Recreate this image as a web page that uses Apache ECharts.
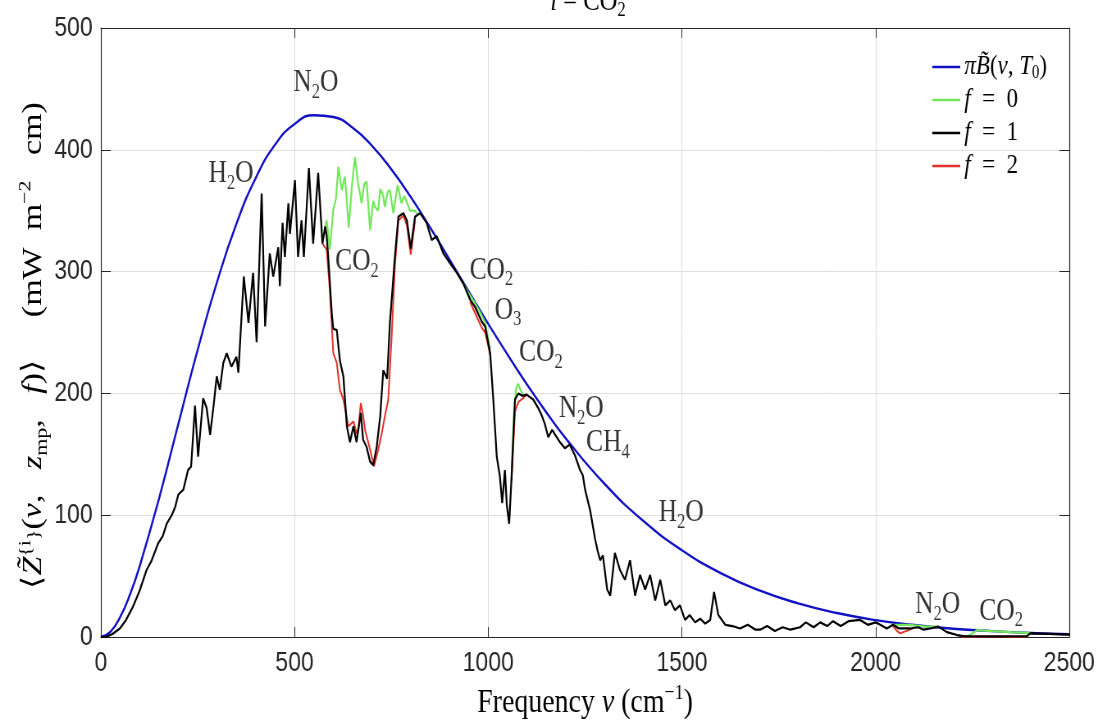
<!DOCTYPE html>
<html>
<head>
<meta charset="utf-8">
<script src="https://cdn.jsdelivr.net/npm/echarts@6.0.0/dist/echarts.min.js"></script>
<style>
html, body { margin: 0; padding: 0; overflow: hidden; background: #fff; }
/* the original figure is squeezed sideways, so draw wide and squeeze */
#main { width: 1356px; height: 722px; transform: scaleX(0.82); transform-origin: 0 0; }
</style>
</head>
<body>
<div id="main"></div>
<script>
var serif = "'Liberation Serif','DejaVu Serif',serif";
var sans = "'Liberation Sans',Arial,sans-serif";

// blue: pi*B(nu,T0)
var planckNu  = [0,25,50,75,100,150,200,250,300,350,400,450,500,550,600,650,700,750,800,850,900,950,1000,1050,1100,1150,1200,1300,1400,1500,1600,1700,1800,1900,2000,2100,2200,2300,2400,2500];
var planckVal = [0,4.4,16.5,34.8,57.9,113.5,174.9,235.9,291.6,339.3,377,404.3,421.2,428.4,426.9,418.1,403.3,383.9,361.2,336.2,310,283.4,257.1,231.8,207.3,184.4,163.1,125.8,95.4,71.2,52.5,38.2,27.6,19.7,13.9,9.8,6.8,4.8,3.3,2.3];

// black: f = 1
var f1 = [[0,0],[15,0.3],[30,2.5],[49,7],[65,14],[83,25],[100,38],[118,55],[130,62],[148,77],[160,83],[170,93],[183,100],[192,107],[200,117],[213,121],[225,137],[233,140],[243,190],[251,148],[264,196],[273,188],[282,166],[291,190],[299,214],[307,203],[316,225],[325,233],[337,222],[350,230],[355,217],[369,296],[381,258],[393,299],[402,242],[415,364],[424,255],[436,315],[445,296],[458,320],[462,288],[469,340],[475,312],[484,356],[488,331],[501,375],[509,312],[518,342],[524,312],[537,385],[548,323],[561,381],[572,323],[579,337],[583,329],[587,312],[596,266],[600,253],[609,252],[617,227],[626,214],[635,173],[643,160],[652,173],[660,160],[671,184],[677,162],[686,156],[695,144],[703,141],[712,156],[721,181],[729,219],[739,212],[746,257],[759,312],[768,345],[781,348],[790,342],[800,319],[811,345],[824,348],[841,340],[854,326],[867,329],[884,315],[901,307],[919,299],[936,290],[953,277],[966,271],[983,259],[992,255],[1005,233],[1013,195],[1022,148],[1030,132],[1036,110],[1043,137],[1048,108],[1054,93],[1060,130],[1069,195],[1078,200],[1088,198],[1099,199],[1116,195],[1129,188],[1138,182],[1146,175],[1155,164],[1165,170],[1173,166],[1185,160],[1198,155],[1210,158],[1224,149],[1237,137],[1244,133],[1250,121],[1263,104],[1276,80],[1283,70],[1289,63],[1296,67],[1307,39],[1315,34],[1327,69],[1340,55],[1353,47],[1366,63],[1379,34],[1392,51],[1405,39],[1418,51],[1431,30],[1444,47],[1457,26],[1470,30],[1482,22],[1495,26],[1508,14],[1520,18],[1534,12],[1547,15],[1560,11],[1573,14],[1583,37],[1594,18],[1612,10],[1630,9],[1650,7],[1670,10],[1690,6],[1702,6],[1720,9],[1740,5],[1760,8],[1780,6],[1805,8],[1820,12],[1840,8],[1857,12],[1875,9],[1890,13],[1910,9],[1930,13],[1960,14],[1980,10],[2000,12],[2012,10],[2029,7],[2045,10],[2060,7],[2089,7],[2110,8],[2124,6],[2141,7],[2162,8.5],[2184,4],[2210,1.6],[2227,0.8],[2300,0.5],[2391,0.8],[2399,3],[2450,2.5],[2500,2]];

// green: f = 0, only where it leaves the black line
var f0Parts = [
  [[579,337],[583,342],[591,318],[600,351],[607,360],[613,386],[622,367],[630,378],[640,336],[648,370],[656,394],[664,372],[669,364],[673,356],[680,372],[686,374],[695,334],[703,358],[708,353],[716,350],[721,368],[729,362],[733,353],[740,365],[746,367],[755,348],[766,371],[776,356],[783,362],[790,357],[798,350],[811,350],[820,346]],
  [[936,290],[950,282],[966,274],[983,264],[992,258],[1005,236]],
  [[1060,130],[1066,182],[1072,204],[1077,208],[1083,203],[1090,199]],
  [[2040,10],[2060,10],[2080,10],[2100,9.5],[2130,8.5],[2162,8.5]],
  [[2227,0.8],[2240,1],[2262,5.6],[2300,4.8],[2350,4],[2390,3.4],[2399,3]]
];

// red: f = 2, only where it leaves the black line
var f2Parts = [
  [[572,323],[583,318],[591,285],[600,233],[609,225],[617,203],[626,195],[639,173],[652,177],[660,167],[665,172],[671,192],[677,182],[682,170],[695,154],[705,140],[716,154],[725,167],[733,181],[742,195],[751,249],[759,304],[768,342],[781,346],[790,338],[800,314],[811,342]],
  [[953,275],[966,266],[983,254],[992,250],[1005,232]],
  [[1060,128],[1069,185],[1078,193],[1090,196],[1099,199]],
  [[2045,9],[2055,5],[2063,3],[2080,5],[2095,7]],
  [[2210,1.6],[2225,0.3],[2300,0.2],[2391,0.3]]
];

// gas labels
var annoNu   = [555, 336, 661, 1008, 1051, 1136, 1240, 1309, 1498, 2160, 2324];
var annoVal  = [455, 380, 308, 301, 268, 233, 187, 159, 102, 26, 21];
var annoText = ['N2O', 'H2O', 'CO2', 'CO2', 'O3', 'CO2', 'N2O', 'CH4', 'H2O', 'N2O', 'CO2'];

var xTicks = [0, 500, 1000, 1500, 2000, 2500];

function mathRich(size, lh) {
  var s = Math.round(size * 0.66);
  lh = lh || size + 8;
  return {
    n:   { fontFamily: serif, fontSize: size, lineHeight: lh, color: '#000' },
    it:  { fontFamily: serif, fontSize: size, lineHeight: lh, fontStyle: 'italic', color: '#000' },
    sub: { fontFamily: serif, fontSize: s, lineHeight: s, verticalAlign: 'bottom', color: '#000' },
    sup: { fontFamily: serif, fontSize: s, lineHeight: s, verticalAlign: 'top', color: '#000' }
  };
}

function chem(t) {
  // H2O -> {n|H}{sub|2}{n|O}
  return t.replace(/([A-Za-z]+)(\d)?/g, function (m, a, d) {
    return '{n|' + a + '}' + (d ? '{sub|' + d + '}' : '');
  });
}

var legendNames = ['planck', 'f = 0', 'f = 1', 'f = 2'];
var legendText = {
  'planck': '{it|π}{it|B̃}{n|(}{it|ν}{n|, }{it|T}{sub|0}{n|)}',
  'f = 0': '{it|f}{n|  =  0}',
  'f = 1': '{it|f}{n|  =  1}',
  'f = 2': '{it|f}{n|  =  2}'
};

var myChart = echarts.init(document.getElementById('main'));

var series = [];
series.push({
  name: 'planck', type: 'line', smooth: 0.5, symbol: 'none',
  data: planckNu.map(function (v, i) { return [v, planckVal[i]]; }),
  lineStyle: { color: '#1010c4', width: 2.4 }, itemStyle: { color: '#1010c4' }
});
f0Parts.forEach(function (p) {
  series.push({
    name: 'f = 0', type: 'line', symbol: 'none', data: p,
    lineStyle: { color: '#72e85a', width: 2.2 }, itemStyle: { color: '#72e85a' }
  });
});
f2Parts.forEach(function (p) {
  series.push({
    name: 'f = 2', type: 'line', symbol: 'none', data: p,
    lineStyle: { color: '#e3322b', width: 2 }, itemStyle: { color: '#e3322b' }
  });
});
series.push({
  name: 'f = 1', type: 'line', symbol: 'none', data: f1,
  lineStyle: { color: '#000', width: 2.2 }, itemStyle: { color: '#000' }
});
series.push({
  name: 'gases', type: 'scatter', symbolSize: 0, silent: true, z: 10,
  data: annoNu.map(function (v, i) { return [v, annoVal[i], annoText[i]]; }),
  label: {
    show: true, position: 'inside',
    formatter: function (p) { return chem(p.data[2]); },
    rich: mathRich(31)
  }
});

var axisCol = '#262626';
var boxLine = { show: true, onZero: false, lineStyle: { color: axisCol, width: 1.2 } };

var option = {
  animation: false,
  backgroundColor: '#fff',
  grid: { left: 123, right: 52, top: 28, bottom: 85, outerBoundsMode: 'none' },
  legend: {
    data: legendNames,
    orient: 'vertical',
    left: 1132, top: 47,
    icon: 'rect', itemWidth: 34, itemHeight: 2.5, itemGap: 3,
    formatter: function (n) { return legendText[n]; },
    textStyle: { fontFamily: serif, fontSize: 28, lineHeight: 30, rich: mathRich(28, 30) }
  },
  graphic: [{
    type: 'text', x: 717, y: 21,
    style: {
      text: '{it|i}{n| = CO}{sub|2}', rich: mathRich(30),
      align: 'center', verticalAlign: 'bottom'
    }
  }],
  xAxis: [{
    type: 'value', min: 0, max: 2500, interval: 500,
    name: '{n|Frequency }{it|ν}{n| (cm}{sup|−1}{n|)}',
    nameLocation: 'middle', nameGap: 37,
    nameTextStyle: { rich: mathRich(34) },
    axisLine: boxLine,
    axisTick: { inside: true, length: 10, lineStyle: { color: axisCol } },
    axisLabel: { fontFamily: sans, fontSize: 28, color: axisCol, margin: 12,
      formatter: function (v) { return xTicks.indexOf(v) >= 0 ? String(v) : ''; } },
    splitLine: { show: true, lineStyle: { color: '#dedede', width: 1 } }
  }, {
    type: 'value', min: 0, max: 2500, interval: 500, position: 'top',
    axisLine: boxLine,
    axisTick: { inside: true, length: 10, lineStyle: { color: axisCol } },
    axisLabel: { show: false }, splitLine: { show: false }
  }],
  yAxis: [{
    type: 'value', min: 0, max: 500, interval: 100,
    name: '{n|⟨}{it|Z̃}{sup|{i}' + '}' + '{n|(}{it|ν}{n|,   }{it|z}{sub|mp}{n|,   }{it|f}{n|)⟩     (mW  m}{sup|−2}{n|   cm)}',
    nameLocation: 'middle', nameGap: 61, nameMoveOverlap: false,
    nameTextStyle: { fontFamily: serif, fontSize: 22, color: '#000', rich: mathRich(34), padding: [0, 26, 0, 0] },
    axisLine: boxLine,
    axisTick: { inside: true, length: 12, lineStyle: { color: axisCol } },
    axisLabel: { fontFamily: sans, fontSize: 28, color: axisCol, margin: 10 },
    splitLine: { show: true, lineStyle: { color: '#dedede', width: 1 } }
  }, {
    type: 'value', min: 0, max: 500, interval: 100, position: 'right',
    axisLine: boxLine,
    axisTick: { inside: true, length: 12, lineStyle: { color: axisCol } },
    axisLabel: { show: false }, splitLine: { show: false }
  }],
  series: series
};

myChart.setOption(option);
</script>
</body>
</html>
